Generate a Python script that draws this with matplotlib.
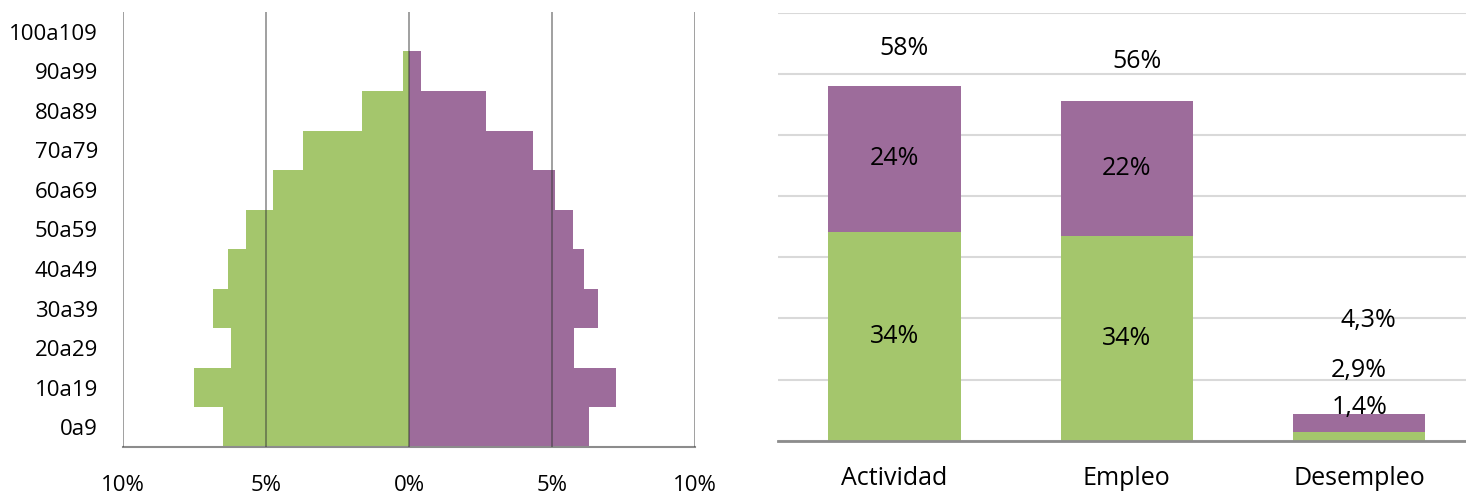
import matplotlib.pyplot as plt
import numpy as np

plt.rcParams['font.family'] = ['Open Sans', 'DejaVu Sans']

# piramide (porcentaje de poblacion por grupo de edad)
edades = ['0a9', '10a19', '20a29', '30a39', '40a49', '50a59',
          '60a69', '70a79', '80a89', '90a99', '100a109']
mujeres = [6.52, 7.53, 6.21, 6.86, 6.33, 5.69, 4.75, 3.72, 1.63, 0.21, 0.0]
hombres = [6.28, 7.25, 5.77, 6.62, 6.11, 5.74, 5.11, 4.34, 2.68, 0.42, 0.0]
xticks = [-10, -5, 0, 5, 10]
xtick_lab = ['10%', '5%', '0%', '5%', '10%']

# tasas
tasas = ['Actividad', 'Empleo', 'Desempleo']
tasa_verde = [34.2, 33.5, 1.4]
tasa_morado = [23.8, 22.1, 2.9]
lab_verde = ['34%', '34%', '1,4%']
lab_morado = ['24%', '22%', '2,9%']
lab_total = ['58%', '56%', '4,3%']

verde = '#a4c66c'
morado = '#9d6c9b'

fig = plt.figure(figsize=(14.66, 4.95), dpi=100)

# ---- left: pyramid
ax1 = fig.add_axes([0.0839, 0.097, 0.3902, 0.879])
y = np.arange(len(edades))
ax1.barh(y, [-v for v in mujeres], height=1.0, color=verde, zorder=2)
ax1.barh(y, hombres, height=1.0, color=morado, zorder=2)
for xv in xticks:
    ax1.axvline(xv, color='#333333', alpha=0.5, lw=1.3, zorder=3)
ax1.set_xlim(-10, 10)
ax1.set_ylim(-0.5, len(edades) - 0.5)
ax1.set_xticks(xticks)
ax1.set_xticklabels(xtick_lab, fontsize=16)
ax1.set_yticks(y)
ax1.set_yticklabels(edades, fontsize=16)
ax1.tick_params(length=0)
ax1.tick_params(axis='x', pad=20)
ax1.tick_params(axis='y', pad=18)
for s in ['top', 'right', 'left']:
    ax1.spines[s].set_visible(False)
ax1.spines['bottom'].set_color('#8c8c8c')
ax1.spines['bottom'].set_linewidth(1.5)

# ---- right: stacked bars
ax2 = fig.add_axes([0.531, 0.1097, 0.469, 0.8643])
x = np.arange(len(tasas))
ax2.set_axisbelow(True)
ax2.yaxis.grid(True, color='#d9d9d9', lw=1.5)
ax2.bar(x, tasa_verde, width=0.57, color=verde, zorder=2)
ax2.bar(x, tasa_morado, width=0.57, bottom=tasa_verde, color=morado, zorder=2)
ax2.set_xlim(-0.5, 2.46)
ax2.set_ylim(0, 70)
ax2.set_yticks(np.arange(0, 71, 10))
ax2.set_yticklabels([])
ax2.set_xticks(x)
ax2.set_xticklabels(tasas, fontsize=18)
ax2.tick_params(length=0)
ax2.tick_params(axis='x', pad=18)
for s in ['top', 'right', 'left']:
    ax2.spines[s].set_visible(False)
ax2.spines['bottom'].set_color('#8c8c8c')
ax2.spines['bottom'].set_linewidth(2)

# label heights (Excel placed the small ones above the bar)
y_verde = [tasa_verde[0] / 2, tasa_verde[1] / 2, 5.5]
y_morado = [tasa_verde[0] + tasa_morado[0] / 2,
            tasa_verde[1] + tasa_morado[1] / 2, 11.5]
y_total = [64.2, 62.0, 19.7]
for i in range(len(tasas)):
    ax2.text(x[i], y_verde[i], lab_verde[i], ha='center', va='center', fontsize=18, zorder=4)
    ax2.text(x[i], y_morado[i], lab_morado[i], ha='center', va='center', fontsize=18, zorder=4)
    ax2.annotate(lab_total[i], (x[i], y_total[i]), xytext=(7, 0), textcoords='offset points',
                 ha='center', va='center', fontsize=18, zorder=4)

fig.savefig('out.png', dpi=100)
